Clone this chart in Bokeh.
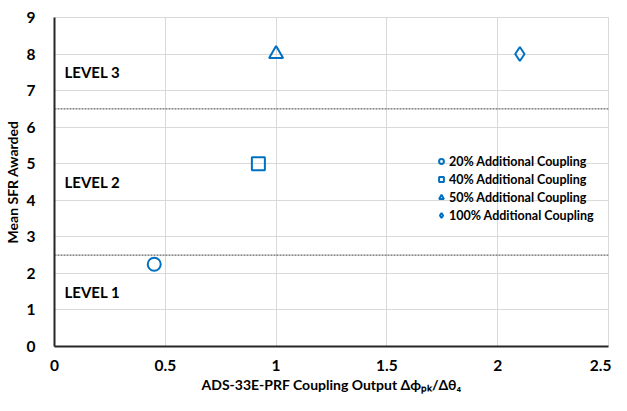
from bokeh.plotting import figure
from bokeh.models import Range1d, FixedTicker, Span, Legend, LegendItem, ColumnDataSource
from bokeh.core.properties import value
from bokeh.embed import file_html
from bokeh.resources import INLINE

# ---- data ----
series_names = ["20% Additional Coupling", "40% Additional Coupling",
                "50% Additional Coupling", "100% Additional Coupling"]
series_markers = ["circle", "square", "triangle", "diamond"]
coupling_output = [0.45, 0.92, 1.0, 2.1]
mean_sfr = [2.25, 5.0, 8.0, 8.0]

level_labels = ["LEVEL 1", "LEVEL 2", "LEVEL 3"]
level_label_x = [0.045, 0.045, 0.045]
level_label_y = [1.5, 4.5, 7.5]
level_thresholds = [2.5, 6.5]

x_ticks = [0, 0.5, 1, 1.5, 2, 2.5]
x_tick_labels = ["0", "0.5", "1", "1.5", "2", "2.5"]
y_ticks = [0, 1, 2, 3, 4, 5, 6, 7, 8, 9]

x_title = "ADS-33E-PRF Coupling Output Δϕₚₖ/Δθ₄"
y_title = "Mean SFR Awarded"

FONT = "Lato"
BLUE = "#0070C0"

p = figure(width=611, height=395, output_backend="svg", toolbar_location=None,
           x_range=Range1d(0, 2.5), y_range=Range1d(0, 9),
           min_border_left=40, min_border_right=3, min_border_top=17, min_border_bottom=40)
p.background_fill_color = "white"
p.outline_line_color = "#d9d9d9"
p.outline_line_width = 1

for ax in (p.xaxis[0], p.yaxis[0]):
    ax.major_tick_line_color = None
    ax.minor_tick_line_color = None
    ax.axis_line_color = "#262626"
    ax.axis_line_width = 2
    ax.major_label_text_font = FONT
    ax.major_label_text_font_style = "bold"
    ax.major_label_text_font_size = "15.5px"
    ax.major_label_text_color = "#000000"
    ax.axis_label_text_font = FONT
    ax.axis_label_text_font_style = "bold"
    ax.axis_label_text_font_size = "14px"
    ax.axis_label_text_color = "#000000"

p.xaxis.ticker = FixedTicker(ticks=x_ticks)
p.xaxis.major_label_overrides = {t: l for t, l in zip(x_ticks, x_tick_labels)}
p.yaxis.ticker = FixedTicker(ticks=y_ticks)
p.xaxis.major_label_standoff = 7
p.yaxis.major_label_standoff = 13
p.xaxis.axis_label = x_title
p.yaxis.axis_label = y_title
p.xaxis.axis_label_standoff = 2
p.yaxis.axis_label_standoff = 3

p.xgrid.ticker = FixedTicker(ticks=x_ticks)
p.ygrid.ticker = FixedTicker(ticks=y_ticks)
p.grid.grid_line_color = "#d9d9d9"
p.grid.grid_line_width = 1

for yv in level_thresholds:
    p.add_layout(Span(location=yv, dimension="width", line_color="#404040",
                      line_width=1, line_dash="2 1"))

p.text(x=level_label_x, y=level_label_y, text=level_labels,
       text_font=value(FONT), text_font_style="bold", text_font_size="15px",
       text_color="#000000", text_baseline="middle", text_align="left")

items = []
for name, mk, xv, yv in zip(series_names, series_markers, coupling_output, mean_sfr):
    src = ColumnDataSource(dict(x=[xv], y=[yv]))
    size = 14 if mk in ("diamond", "triangle") else 13
    r = p.scatter("x", "y", source=src, marker=mk, size=size,
                  fill_color="white", fill_alpha=0, line_color=BLUE, line_width=2)
    items.append(LegendItem(label=name, renderers=[r]))

legend = Legend(items=items, location=(381, 122), orientation="vertical")
legend.background_fill_alpha = 0
legend.border_line_color = None
legend.label_text_font = FONT
legend.label_text_font_style = "bold"
legend.label_text_font_size = "12.5px"
legend.label_text_color = "#000000"
legend.label_height = 18
legend.glyph_height = 18
legend.glyph_width = 12
legend.label_standoff = 2
legend.spacing = 0
legend.padding = 2
legend.margin = 0
p.add_layout(legend, "center")

open("out.html", "w").write(file_html(p, INLINE))
